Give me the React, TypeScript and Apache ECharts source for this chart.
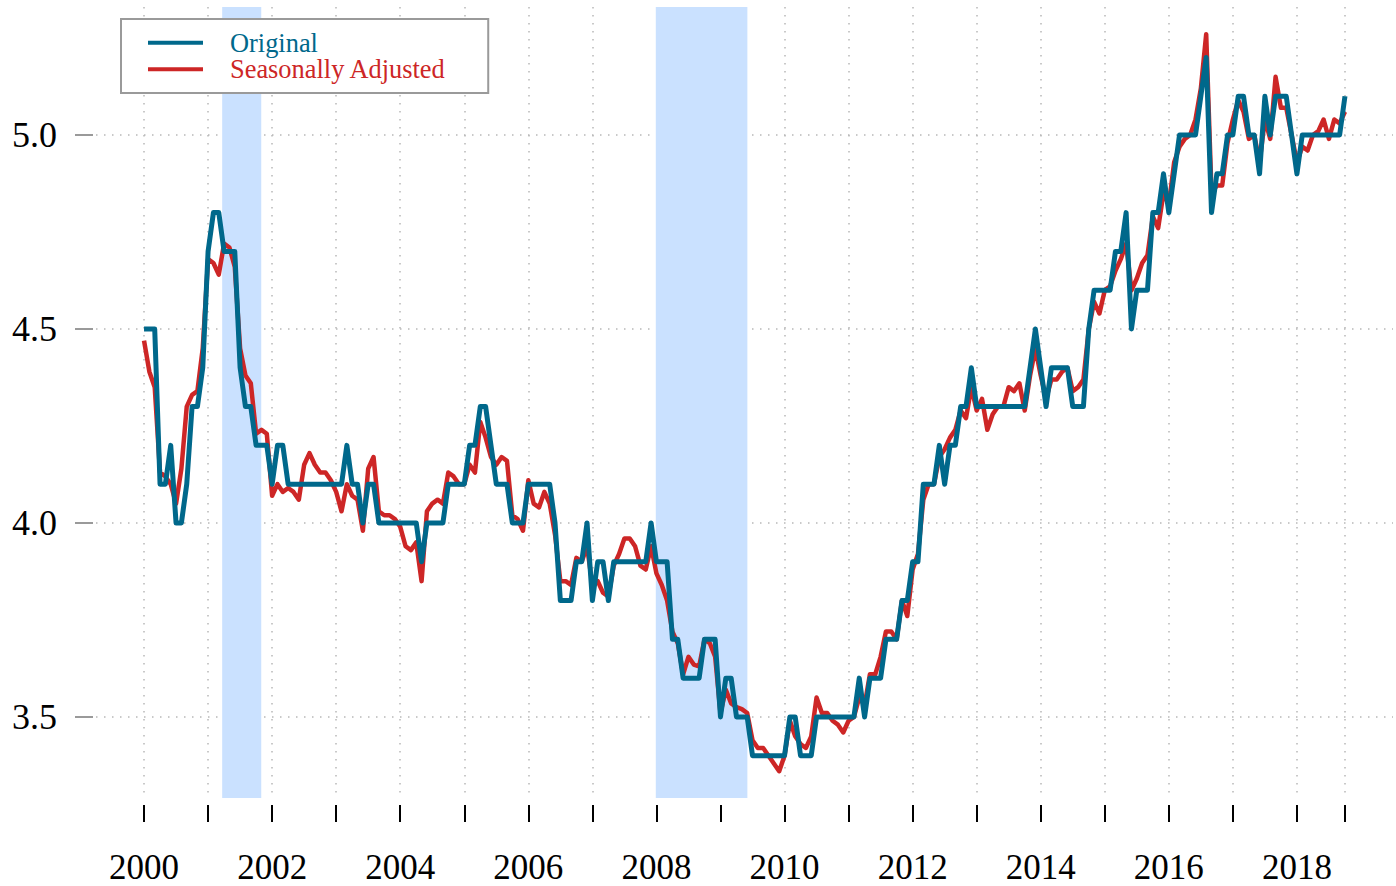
import React, { useEffect, useRef } from 'react';
import * as echarts from 'echarts';

// Monthly data, January 2000 .. October 2018
const START_YEAR = 2000;

const original = [
  4.5, 4.5, 4.5, 4.1, 4.1, 4.2, 4.0, 4.0, 4.1, 4.3, 4.3, 4.4,
  4.7, 4.8, 4.8, 4.7, 4.7, 4.7, 4.4, 4.3, 4.3, 4.2, 4.2, 4.2,
  4.1, 4.2, 4.2, 4.1, 4.1, 4.1, 4.1, 4.1, 4.1, 4.1, 4.1, 4.1,
  4.1, 4.1, 4.2, 4.1, 4.1, 4.0, 4.1, 4.1, 4.0, 4.0, 4.0, 4.0,
  4.0, 4.0, 4.0, 4.0, 3.9, 4.0, 4.0, 4.0, 4.0, 4.1, 4.1, 4.1,
  4.1, 4.2, 4.2, 4.3, 4.3, 4.2, 4.1, 4.1, 4.1, 4.0, 4.0, 4.0,
  4.1, 4.1, 4.1, 4.1, 4.1, 4.0, 3.8, 3.8, 3.8, 3.9, 3.9, 4.0,
  3.8, 3.9, 3.9, 3.8, 3.9, 3.9, 3.9, 3.9, 3.9, 3.9, 3.9, 4.0,
  3.9, 3.9, 3.9, 3.7, 3.7, 3.6, 3.6, 3.6, 3.6, 3.7, 3.7, 3.7,
  3.5, 3.6, 3.6, 3.5, 3.5, 3.5, 3.4, 3.4, 3.4, 3.4, 3.4, 3.4,
  3.4, 3.5, 3.5, 3.4, 3.4, 3.4, 3.5, 3.5, 3.5, 3.5, 3.5, 3.5,
  3.5, 3.5, 3.6, 3.5, 3.6, 3.6, 3.6, 3.7, 3.7, 3.7, 3.8, 3.8,
  3.9, 3.9, 4.1, 4.1, 4.1, 4.2, 4.1, 4.2, 4.2, 4.3, 4.3, 4.4,
  4.3, 4.3, 4.3, 4.3, 4.3, 4.3, 4.3, 4.3, 4.3, 4.3, 4.4, 4.5,
  4.4, 4.3, 4.4, 4.4, 4.4, 4.4, 4.3, 4.3, 4.3, 4.5, 4.6, 4.6,
  4.6, 4.6, 4.7, 4.7, 4.8, 4.5, 4.6, 4.6, 4.6, 4.8, 4.8, 4.9,
  4.8, 4.9, 5.0, 5.0, 5.0, 5.0, 5.1, 5.2, 4.8, 4.9, 4.9, 5.0,
  5.0, 5.1, 5.1, 5.0, 5.0, 4.9, 5.1, 5.0, 5.1, 5.1, 5.1, 5.0,
  4.9, 5.0, 5.0, 5.0, 5.0, 5.0, 5.0, 5.0, 5.0, 5.1,
];

const seasonallyAdjusted = [
  4.47, 4.39, 4.35, 4.13, 4.12, 4.10, 4.05, 4.14, 4.30, 4.33, 4.34, 4.45,
  4.68, 4.67, 4.64, 4.72, 4.71, 4.66, 4.45, 4.38, 4.36, 4.23, 4.24, 4.23,
  4.07, 4.10, 4.08, 4.09, 4.08, 4.06, 4.15, 4.18, 4.15, 4.13, 4.13, 4.11,
  4.08, 4.03, 4.10, 4.07, 4.06, 3.98, 4.14, 4.17, 4.03, 4.02, 4.02, 4.01,
  3.99, 3.94, 3.93, 3.95, 3.85, 4.03, 4.05, 4.06, 4.05, 4.13, 4.12, 4.10,
  4.10, 4.15, 4.13, 4.26, 4.22, 4.17, 4.15, 4.17, 4.16, 4.02, 4.01, 3.98,
  4.11, 4.05, 4.04, 4.08, 4.05, 3.97, 3.85, 3.85, 3.84, 3.91, 3.90, 3.94,
  3.84, 3.85, 3.82, 3.81, 3.89, 3.92, 3.96, 3.96, 3.94, 3.89, 3.88, 3.94,
  3.87, 3.84, 3.80, 3.72, 3.69, 3.61, 3.655, 3.635, 3.63, 3.70, 3.69, 3.655,
  3.51, 3.57, 3.535, 3.525, 3.52, 3.51, 3.44, 3.42, 3.42, 3.40, 3.38, 3.36,
  3.40, 3.49, 3.45, 3.43, 3.42, 3.45, 3.55, 3.51, 3.51, 3.49, 3.48, 3.46,
  3.49, 3.50, 3.55, 3.53, 3.61, 3.61, 3.655, 3.72, 3.72, 3.70, 3.80, 3.76,
  3.88, 3.92, 4.06, 4.10, 4.10, 4.17, 4.19, 4.22, 4.24, 4.29, 4.27, 4.35,
  4.29, 4.32, 4.24, 4.28, 4.30, 4.30, 4.35, 4.34, 4.36, 4.29, 4.38, 4.45,
  4.38, 4.32, 4.37, 4.37, 4.39, 4.40, 4.34, 4.35, 4.37, 4.50, 4.57, 4.54,
  4.60, 4.61, 4.65, 4.68, 4.72, 4.60, 4.63, 4.67, 4.69, 4.79, 4.76, 4.85,
  4.82, 4.93, 4.97, 4.99, 5.00, 5.04, 5.12, 5.26, 4.85, 4.87, 4.87, 4.98,
  5.04, 5.09, 5.06, 4.99, 5.00, 4.93, 5.04, 4.99, 5.15, 5.07, 5.07, 5.00,
  4.93, 4.97, 4.96, 5.00, 5.01, 5.04, 4.99, 5.04, 5.03, 5.06,
];

// Recession periods (decimal years)
const recessions: [number, number][] = [
  [2001.22, 2001.83],
  [2007.99, 2009.42],
];

const xTickValues = [
  2000, 2001, 2002, 2003, 2004, 2005, 2006, 2007, 2008, 2009,
  2010, 2011, 2012, 2013, 2014, 2015, 2016, 2017, 2018, 2018.75,
];
const xLabelValues = [2000, 2002, 2004, 2006, 2008, 2010, 2012, 2014, 2016, 2018];
const yTickValues = [3.5, 4.0, 4.5, 5.0];

const COLOR_ORIG = '#00688B';
const COLOR_SA = '#CD2626';
const BAND = '#CAE1FF';
const FONT = "'Liberation Serif', 'DejaVu Serif', 'Times New Roman', serif";

export default function App() {
  const ref = useRef<HTMLDivElement>(null);

  useEffect(() => {
    document.body.style.margin = '0';
    if (!ref.current) return;
    const chart = echarts.init(ref.current, null, { renderer: 'svg' });

    const dates = original.map((_, i) => START_YEAR + i / 12);
    const origData = original.map((v, i) => [dates[i], v]);
    const saData = seasonallyAdjusted.map((v, i) => [dates[i], v]);

    const gridLine = {
      show: true,
      lineStyle: { color: '#b8b8b8', width: 1.5, type: [1.5, 6.5] },
    };

    chart.setOption({
      animation: false,
      backgroundColor: '#ffffff',
      textStyle: { fontFamily: FONT },
      grid: { left: 96, right: 3, top: 7, bottom: 88, outerBoundsMode: 'none' },
      legend: {
        show: true,
        orient: 'vertical',
        left: 121,
        top: 19,
        padding: [10.5, 42, 10.5, 27],
        itemGap: 0,
        itemWidth: 55,
        itemHeight: 4,
        icon: 'rect',
        borderColor: '#9a9a9a',
        borderWidth: 2,
        borderRadius: 0,
        backgroundColor: '#ffffff',
        selectedMode: false,
        textStyle: {
          fontFamily: FONT,
          fontSize: 26.4,
          lineHeight: 26.5,
          padding: [0, 0, 0, 22],
        },
        data: [
          { name: 'Original', textStyle: { color: COLOR_ORIG } },
          { name: 'Seasonally Adjusted', textStyle: { color: COLOR_SA } },
        ],
      },
      xAxis: {
        type: 'value',
        min: 1999.25,
        max: 2019.5,
        offset: 7,
        axisLine: { show: false },
        axisTick: {
          show: true,
          length: 17,
          customValues: xTickValues,
          lineStyle: { color: '#000', width: 2 },
        },
        axisLabel: {
          show: true,
          customValues: xLabelValues,
          margin: 47,
          fontFamily: FONT,
          fontSize: 35,
          lineHeight: 30,
          color: '#000',
          formatter: (v: number) => String(Math.round(v)),
        },
        splitLine: gridLine,
      },
      yAxis: {
        type: 'value',
        min: 3.291,
        max: 5.33,
        offset: 3,
        axisLine: { show: false },
        axisTick: {
          show: true,
          length: 18,
          customValues: yTickValues,
          lineStyle: { color: '#9a9a9a', width: 2 },
        },
        axisLabel: {
          show: true,
          customValues: yTickValues,
          margin: 36,
          fontFamily: FONT,
          fontSize: 36,
          lineHeight: 30,
          color: '#000',
          formatter: (v: number) => v.toFixed(1),
        },
        splitLine: gridLine,
      },
      series: [
        {
          name: 'recessions',
          type: 'line',
          data: [],
          z: 1,
          silent: true,
          markArea: {
            silent: true,
            itemStyle: { color: BAND, opacity: 1 },
            data: recessions.map(([a, b]) => [{ xAxis: a }, { xAxis: b }]),
          },
        },
        {
          name: 'Seasonally Adjusted',
          type: 'line',
          data: saData,
          z: 3,
          showSymbol: false,
          symbol: 'none',
          color: COLOR_SA,
          lineStyle: { color: COLOR_SA, width: 4.5, join: 'round' },
        },
        {
          name: 'Original',
          type: 'line',
          data: origData,
          z: 4,
          showSymbol: false,
          symbol: 'none',
          color: COLOR_ORIG,
          lineStyle: { color: COLOR_ORIG, width: 5, join: 'round' },
        },
      ],
    });

    return () => chart.dispose();
  }, []);

  return <div ref={ref} style={{ width: 1396, height: 886 }} />;
}
